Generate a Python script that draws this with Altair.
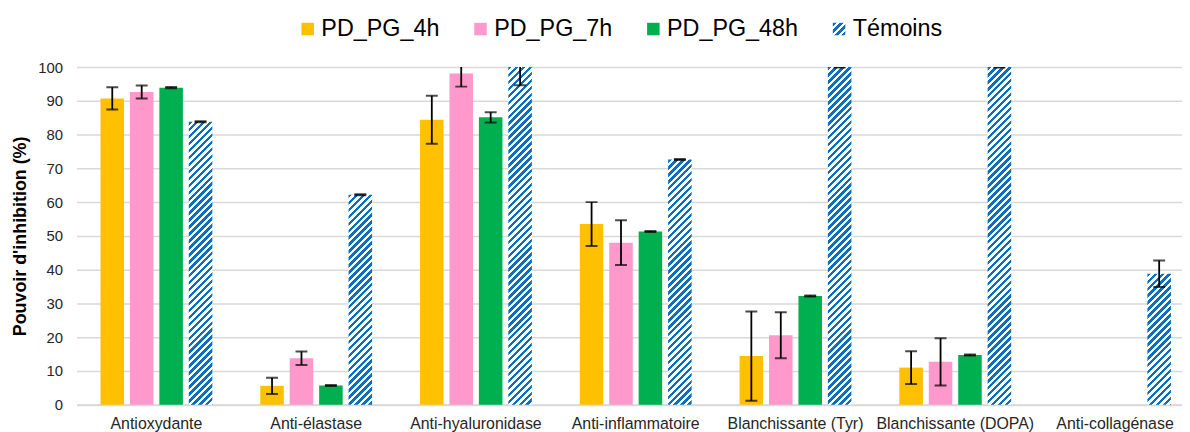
import math
import altair as alt

# ---------------- data ----------------
categories = ["Antioxydante", "Anti-élastase", "Anti-hyaluronidase", "Anti-inflammatoire",
              "Blanchissante (Tyr)", "Blanchissante (DOPA)", "Anti-collagénase"]
series = ["PD_PG_4h", "PD_PG_7h", "PD_PG_48h", "Témoins"]

pd_4h = [90.7, 5.6, 84.4, 53.5, 14.4, 11.0, None]
pd_4h_err = [3.3, 2.4, 7.1, 6.5, 13.2, 4.85, None]
pd_7h = [92.6, 13.8, 98.1, 48.0, 20.6, 12.7, None]
pd_7h_err = [1.9, 2.0, 3.9, 6.6, 6.8, 7.0, None]
pd_48h = [93.9, 5.7, 85.1, 51.3, 32.2, 14.7, None]
pd_48h_err = [0.2, 0.15, 1.5, 0.15, 0.15, 0.15, None]
temoins = [83.8, 62.2, 100.0, 72.6, 100.0, 100.0, 38.8]
temoins_err = [0.15, 0.15, 5.4, 0.15, 0.15, 0.15, 3.9]

colors = ["#FFC000", "#FF99CC", "#00B050", "#0070C0"]
y_ticks = [0, 10, 20, 30, 40, 50, 60, 70, 80, 90, 100]

# ---------------- layout / style ----------------
FONT = "Liberation Sans"
PAD_LEFT = 69
PLOT_W, PLOT_H = 1182 - PAD_LEFT - 2, 340
X_RANGE = 1126.0          # category band extends slightly past the visible frame
X_PI, OFF_PI = 0.30, 0.2
HATCH_BLUE, HATCH_WHITE, HATCH_PERIOD = "#0A6FC2", "#FFFFFF", 7.0

BAR_W = X_RANGE / len(categories) * (1 - X_PI) / (len(series) - OFF_PI) * (1 - OFF_PI)


def hatch(w, h, period=HATCH_PERIOD):
    """Linear gradient (bbox units) that renders 45deg '/' stripes on a w x h box."""
    total = w + h
    k = total / (w * w + h * h)
    stops = []
    n = int(math.ceil(total / period))
    for i in range(n):
        s0 = i * period / total
        s1 = min(1.0, (i + 0.5) * period / total)
        s2 = min(1.0, (i + 1) * period / total)
        stops += [{"offset": round(s0, 5), "color": HATCH_BLUE},
                  {"offset": round(s1, 5), "color": HATCH_BLUE},
                  {"offset": round(s1, 5), "color": HATCH_WHITE},
                  {"offset": round(s2, 5), "color": HATCH_WHITE}]
    return {"gradient": "linear", "x1": 0, "y1": 0, "x2": round(k * w, 6),
            "y2": round(k * h, 6), "stops": stops}


def gradient_expr(g):
    stops = ",".join("{offset:%s,color:'%s'}" % (s["offset"], s["color"]) for s in g["stops"])
    return "{gradient:'linear',x1:%s,y1:%s,x2:%s,y2:%s,stops:[%s]}" % (
        g["x1"], g["y1"], g["x2"], g["y2"], stops)


vals = [pd_4h, pd_7h, pd_48h, temoins]
errs = [pd_4h_err, pd_7h_err, pd_48h_err, temoins_err]
rows = []
for s, vlist, elist in zip(series, vals, errs):
    for c, v, e in zip(categories, vlist, elist):
        if v is None:
            continue
        row = {"cat": c, "series": s, "value": v, "err": e}
        if s == "Témoins":
            row["grad"] = hatch(BAR_W, v / 100.0 * PLOT_H)
        rows.append(row)

LEGEND_SYM = 12.6
legend_range = colors[:3] + [alt.ExprRef(expr=gradient_expr(hatch(LEGEND_SYM, LEGEND_SYM)))]

# ---------------- chart ----------------
x_enc = alt.X("cat:N", sort=categories, title=None,
              scale=alt.Scale(paddingInner=X_PI, paddingOuter=X_PI / 2, range=[0, X_RANGE]),
              axis=alt.Axis(labelAngle=0, ticks=False, domainColor="#D9D9D9", domainWidth=2,
                            labelFontSize=16, labelColor="#262626", labelPadding=11,
                            labelFont=FONT))
off_enc = alt.XOffset("series:N", sort=series,
                      scale=alt.Scale(domain=series, paddingInner=OFF_PI, paddingOuter=0))

y_axis = alt.Axis(values=y_ticks, title="Pouvoir d'inhibition (%)", titleFontSize=18,
                  titleFontWeight="bold", titleFont=FONT, titleColor="black",
                  titleX=-56, titleBaseline="middle",
                  labelFontSize=15, labelFont=FONT, labelColor="#262626", labelPadding=14,
                  domain=False, ticks=False, gridColor="#D9D9D9", gridWidth=1.5)
y_scale = alt.Scale(domain=[0, 100], nice=False)

base = alt.Chart(alt.Data(values=rows)).encode(x=x_enc, xOffset=off_enc)

bars_pd = base.transform_filter("datum.series !== 'Témoins'").mark_bar().encode(
    y=alt.Y("value:Q", scale=y_scale, axis=y_axis),
    color=alt.Color("series:N", scale=alt.Scale(domain=series, range=legend_range),
                    legend=alt.Legend(orient="none", legendX=221, legendY=-50,
                                      direction="horizontal", title=None, gridAlign="none",
                                      symbolType="square", symbolSize=LEGEND_SYM ** 2,
                                      symbolStrokeWidth=0, labelFontSize=23.5, labelFont=FONT,
                                      labelColor="black", labelOffset=2, columnPadding=29,
                                      padding=0)),
)

bars_t = base.transform_filter("datum.series === 'Témoins'").mark_bar().encode(
    y=alt.Y("value:Q", scale=y_scale, axis=y_axis),
    fill=alt.Fill("grad:N", scale=None, legend=None),
)

err = base.transform_calculate(lo="datum.value - datum.err", hi="datum.value + datum.err")
rule = err.mark_rule(color="black", strokeWidth=1.8, clip=True).encode(
    y=alt.Y("lo:Q", scale=y_scale, axis=y_axis), y2="hi:Q")
tick_lo = err.mark_tick(color="black", size=12, thickness=2, clip=True).encode(
    y=alt.Y("lo:Q", scale=y_scale, axis=y_axis))
tick_hi = err.mark_tick(color="black", size=12, thickness=2, clip=True).encode(
    y=alt.Y("hi:Q", scale=y_scale, axis=y_axis))

chart = alt.layer(bars_pd, bars_t, rule, tick_lo, tick_hi).properties(
    width=PLOT_W, height=PLOT_H,
    autosize=alt.AutoSizeParams(type="none"),
    padding={"left": PAD_LEFT, "top": 58, "right": 2, "bottom": 26},
    background="white",
).configure_view(stroke=None)

chart.save("out.html", embed_options={"renderer": "svg", "actions": False})
